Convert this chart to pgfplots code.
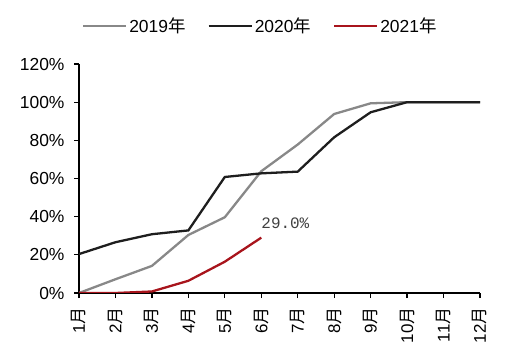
\documentclass[border=0pt]{standalone}
\usepackage{pgfplots}
\pgfplotsset{compat=1.18}
\usepackage{fontspec}
\setmainfont{Liberation Sans}
\newfontfamily\cjk{Noto Sans CJK SC}
\newfontfamily\monofont{Liberation Mono}
\definecolor{cgray}{HTML}{888888}
\definecolor{cblack}{HTML}{1E1E1E}
\definecolor{cred}{HTML}{A8141C}
\begin{document}
\begin{tikzpicture}
\useasboundingbox (0,0) rectangle (509bp,353bp);
\begin{axis}[
  at={(79bp,60bp)}, anchor=south west,
  scale only axis, width=401bp, height=229bp,
  xmin=1, xmax=12, ymin=0, ymax=120,
  axis x line=bottom, axis y line=left,
  axis line style={-, black, line width=1.3pt},
  tick align=outside, major tick length=5bp,
  tick style={black, line width=1.2pt},
  xtick={1,...,12},
  xticklabels={1{\cjk 月},2{\cjk 月},3{\cjk 月},4{\cjk 月},5{\cjk 月},6{\cjk 月},7{\cjk 月},8{\cjk 月},9{\cjk 月},10{\cjk 月},11{\cjk 月},12{\cjk 月}},
  xticklabel style={rotate=90, anchor=east, font=\fontsize{17}{20}\selectfont},
  xticklabel shift=6bp,
  ytick={0,20,...,120},
  yticklabel={\pgfmathprintnumber[fixed,precision=0]{\tick}\%},
  yticklabel style={font=\fontsize{17.5}{20}\selectfont},
  yticklabel shift=6bp,
  /pgf/number format/assume math mode=true,
  legend columns=3,
  legend style={draw=none, fill=none, at={(0.452,1.167)}, anchor=center,
    font=\fontsize{17.5}{20}\selectfont,
    /tikz/every even column/.append style={column sep=20bp}},
  legend cell align=left,
  legend image code/.code={\draw[#1] (0bp,0bp) -- (43bp,0bp);},
]
\addplot[cgray, line width=2.3pt] coordinates {(1,0) (2,7.2) (3,14.2) (4,30.4) (5,39.7) (6,63.8) (7,77.8) (8,93.8) (9,99.4) (10,100) (11,100) (12,100)};
\addlegendentry{2019{\cjk 年}}
\addplot[cblack, line width=2.3pt] coordinates {(1,20.4) (2,26.6) (3,30.8) (4,32.8) (5,60.8) (6,62.7) (7,63.6) (8,81.6) (9,94.7) (10,100) (11,100) (12,100)};
\addlegendentry{2020{\cjk 年}}
\addplot[cred, line width=2.3pt] coordinates {(1,0) (2,0) (3,0.8) (4,6.4) (5,16.4) (6,29.0)};
\addlegendentry{2021{\cjk 年}}
\node[anchor=base west, inner sep=0pt, text=black!75, font=\monofont\fontsize{16}{18}\selectfont] at (axis cs:6,34) {29.0\%};
\end{axis}
\end{tikzpicture}
\end{document}
